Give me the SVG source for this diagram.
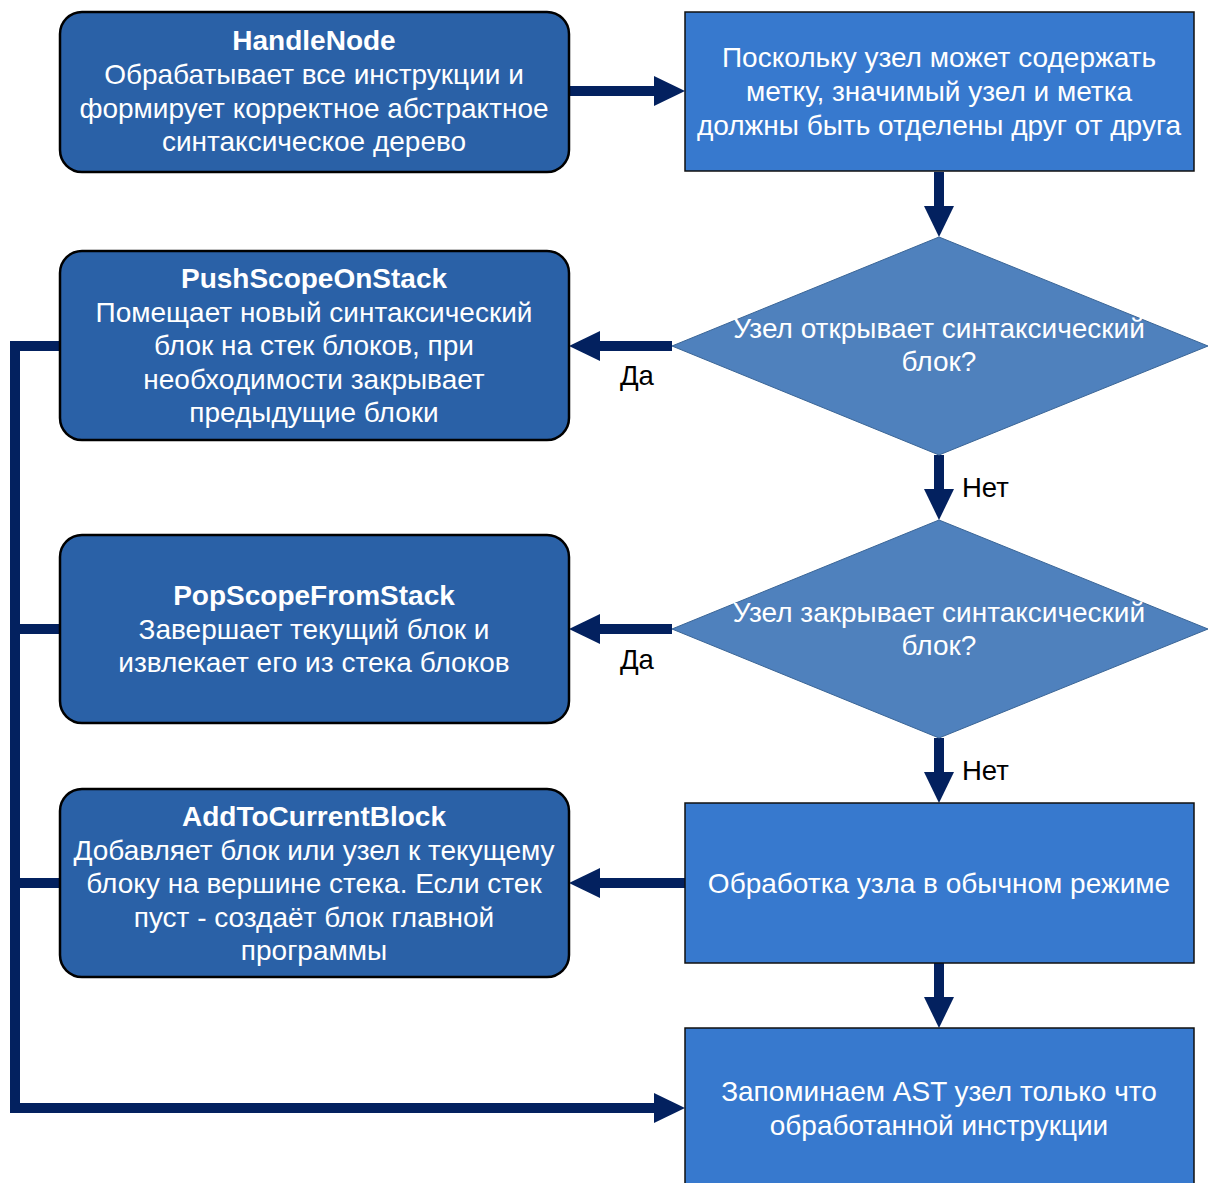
<svg xmlns="http://www.w3.org/2000/svg" width="1213" height="1183" viewBox="0 0 1213 1183">
  <style>
    .proc { fill: #2A61A7; stroke: #000; stroke-width: 2.5; }
    .step { fill: #3779CE; stroke: #111; stroke-width: 1.5; }
    .dec { fill: #4F81BD; stroke: #3A6596; stroke-width: 1; }
    .t { font-family: "Liberation Sans", Arial, sans-serif; font-size: 28px; fill: #fff; text-anchor: middle; }
    .b { font-weight: bold; }
    .lbl { font-family: "Liberation Sans", Arial, sans-serif; font-size: 27.5px; fill: #000; }
    .wire { fill: none; stroke: #03215F; stroke-width: 10; }
    .head { fill: #03215F; }
  </style>

  <g id="connectors">
    <!-- HandleNode -> label check -->
    <line class="wire" x1="569" y1="91" x2="656" y2="91"/>
    <polygon class="head" points="685,91 654,76 654,106"/>
    <!-- label check -> opens block? -->
    <line class="wire" x1="939" y1="172" x2="939" y2="209"/>
    <polygon class="head" points="939,237 924,206 954,206"/>
    <!-- opens block? yes -> PushScopeOnStack -->
    <line class="wire" x1="672" y1="346" x2="598" y2="346"/>
    <polygon class="head" points="569,346 600,331 600,361"/>
    <!-- opens block? no -> closes block? -->
    <line class="wire" x1="939" y1="455" x2="939" y2="492"/>
    <polygon class="head" points="939,520 924,489 954,489"/>
    <!-- closes block? yes -> PopScopeFromStack -->
    <line class="wire" x1="672" y1="629" x2="598" y2="629"/>
    <polygon class="head" points="569,629 600,614 600,644"/>
    <!-- closes block? no -> normal handling -->
    <line class="wire" x1="939" y1="738" x2="939" y2="775"/>
    <polygon class="head" points="939,803 924,772 954,772"/>
    <!-- normal handling -> AddToCurrentBlock -->
    <line class="wire" x1="685" y1="883" x2="598" y2="883"/>
    <polygon class="head" points="569,883 600,868 600,898"/>
    <!-- normal handling -> remember AST node -->
    <line class="wire" x1="939" y1="963" x2="939" y2="1000"/>
    <polygon class="head" points="939,1028 924,997 954,997"/>
    <!-- shared return bus on the left -->
    <polyline class="wire" points="60,346 15,346 15,1108 656,1108"/>
    <line class="wire" x1="60" y1="629" x2="15" y2="629"/>
    <line class="wire" x1="60" y1="883" x2="15" y2="883"/>
    <polygon class="head" points="685,1108 654,1093 654,1123"/>
  </g>

  <g id="handle-node">
    <rect class="proc" x="60" y="12" width="509" height="160" rx="22"/>
    <text class="t b" x="314" y="50">HandleNode</text>
    <text class="t" x="314" y="84">Обрабатывает все инструкции и</text>
    <text class="t" x="314" y="118">формирует корректное абстрактное</text>
    <text class="t" x="314" y="151">синтаксическое дерево</text>
  </g>

  <g id="split-label">
    <rect class="step" x="685" y="12" width="509" height="159"/>
    <text class="t" x="939" y="67">Поскольку узел может содержать</text>
    <text class="t" x="939" y="101">метку, значимый узел и метка</text>
    <text class="t" x="939" y="135">должны быть отделены друг от друга</text>
  </g>

  <g id="opens-block">
    <polygon class="dec" points="939,237 1208,346 939,455 672,346"/>
    <text class="t" x="939" y="338">Узел открывает синтаксический</text>
    <text class="t" x="939" y="371">блок?</text>
  </g>

  <g id="push-scope">
    <rect class="proc" x="60" y="251" width="509" height="189" rx="22"/>
    <text class="t b" x="314" y="288">PushScopeOnStack</text>
    <text class="t" x="314" y="322">Помещает новый синтаксический</text>
    <text class="t" x="314" y="355">блок на стек блоков, при</text>
    <text class="t" x="314" y="389">необходимости закрывает</text>
    <text class="t" x="314" y="422">предыдущие блоки</text>
  </g>

  <g id="closes-block">
    <polygon class="dec" points="939,520 1208,629 939,738 672,629"/>
    <text class="t" x="939" y="622">Узел закрывает синтаксический</text>
    <text class="t" x="939" y="655">блок?</text>
  </g>

  <g id="pop-scope">
    <rect class="proc" x="60" y="535" width="509" height="188" rx="22"/>
    <text class="t b" x="314" y="605">PopScopeFromStack</text>
    <text class="t" x="314" y="639">Завершает текущий блок и</text>
    <text class="t" x="314" y="672">извлекает его из стека блоков</text>
  </g>

  <g id="normal-handling">
    <rect class="step" x="685" y="803" width="509" height="160"/>
    <text class="t" x="939" y="893">Обработка узла в обычном режиме</text>
  </g>

  <g id="add-to-current">
    <rect class="proc" x="60" y="789" width="509" height="188" rx="22"/>
    <text class="t b" x="314" y="826">AddToCurrentBlock</text>
    <text class="t" x="314" y="860">Добавляет блок или узел к текущему</text>
    <text class="t" x="314" y="893">блоку на вершине стека. Если стек</text>
    <text class="t" x="314" y="927">пуст - создаёт блок главной</text>
    <text class="t" x="314" y="960">программы</text>
  </g>

  <g id="remember-ast">
    <rect class="step" x="685" y="1028" width="509" height="170"/>
    <text class="t" x="939" y="1101">Запоминаем AST узел только что</text>
    <text class="t" x="939" y="1135">обработанной инструкции</text>
  </g>

  <g id="edge-labels">
    <text class="lbl" x="620" y="385">Да</text>
    <text class="lbl" x="962" y="497">Нет</text>
    <text class="lbl" x="620" y="669">Да</text>
    <text class="lbl" x="962" y="780">Нет</text>
  </g>
</svg>
